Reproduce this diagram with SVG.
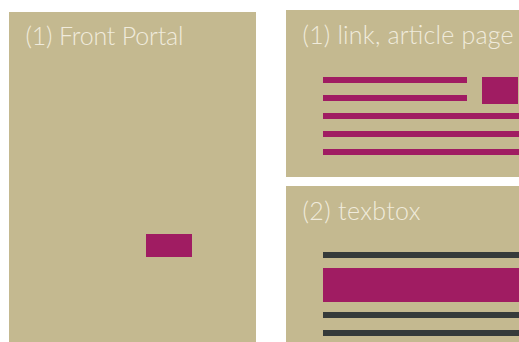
<svg xmlns="http://www.w3.org/2000/svg" width="519" height="342" viewBox="0 0 519 342">
<style>
.panel{fill:#c4b990}
.mag{fill:#a01c62}
.dark{fill:#353a3a}
.title{font-family:Lato,"Liberation Sans",sans-serif;font-weight:300;font-size:25px;fill:#f0ebdc}
</style>
<rect width="519" height="342" fill="#ffffff"/>
<g id="front-portal">
<rect class="panel" x="9" y="12" width="247" height="330"/>
<text class="title" x="25.5" y="45" textLength="158" lengthAdjust="spacing">(1) Front Portal</text>
<rect class="mag" x="146" y="234" width="46" height="23"/>
</g>
<g id="article-page">
<rect class="panel" x="286" y="10" width="233" height="167"/>
<text class="title" x="302.5" y="44" textLength="211" lengthAdjust="spacing">(1) link, article page</text>
<rect class="mag" x="323" y="77" width="144" height="6"/>
<rect class="mag" x="323" y="95" width="144" height="6"/>
<rect class="mag" x="323" y="113" width="196" height="6"/>
<rect class="mag" x="323" y="131" width="196" height="6"/>
<rect class="mag" x="323" y="149" width="196" height="6"/>
<rect class="mag" x="482" y="77" width="36" height="27"/>
</g>
<g id="textbox">
<rect class="panel" x="286" y="186" width="233" height="156"/>
<text class="title" x="302.5" y="220" textLength="118" lengthAdjust="spacing">(2) texbtox</text>
<rect class="dark" x="323" y="252" width="196" height="6"/>
<rect class="mag" x="323" y="268" width="196" height="34"/>
<rect class="dark" x="323" y="312" width="196" height="6"/>
<rect class="dark" x="323" y="330" width="196" height="6"/>
</g>
<g id="connectors"/>
</svg>
